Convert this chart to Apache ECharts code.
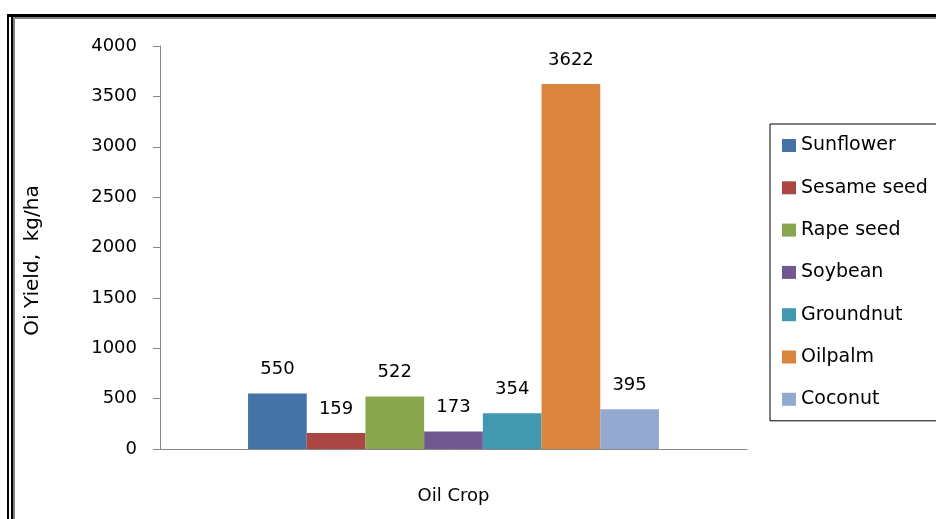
<!DOCTYPE html>
<html>
<head>
<meta charset="utf-8">
<script src="https://cdn.jsdelivr.net/npm/echarts@6/dist/echarts.min.js"></script>
<style>html,body{margin:0;padding:0;background:#fff;}#c{width:936px;height:519px;}</style>
</head>
<body>
<div id="c"></div>
<script>
var categories = ['Oil Crop'];
var seriesNames = ['Sunflower', 'Sesame seed', 'Rape seed', 'Soybean', 'Groundnut', 'Oilpalm', 'Coconut'];
var seriesValues = [550, 159, 522, 173, 354, 3622, 395];
var seriesColors = ['#4572A7', '#AA4643', '#89A54E', '#71588F', '#4198AF', '#DB843D', '#93A9CF'];
var yTicks = [0, 500, 1000, 1500, 2000, 2500, 3000, 3500, 4000];

var FONT = 'DejaVu Sans';
var chart = echarts.init(document.getElementById('c'), null, {renderer: 'canvas'});
var series = seriesNames.map(function (n, i) {
  return {
    name: n, type: 'bar', data: [seriesValues[i]],
    barGap: '0%', barCategoryGap: '30%',
    itemStyle: {color: seriesColors[i]},
    label: {show: true, position: 'top', distance: 15, color: '#000', fontFamily: FONT, fontSize: 18}
  };
});
chart.setOption({
  animation: false,
  backgroundColor: '#fff',
  grid: {left: 160, right: 189, top: 46, bottom: 70},
  xAxis: {
    type: 'category', data: categories,
    name: 'Oil Crop', nameLocation: 'middle', nameGap: 38,
    nameTextStyle: {color: '#000', fontFamily: FONT, fontSize: 18},
    axisLine: {show: true, lineStyle: {color: '#868686', width: 1}},
    axisTick: {show: false}, axisLabel: {show: false}
  },
  yAxis: {
    type: 'value', min: yTicks[0], max: yTicks[yTicks.length - 1], interval: 500,
    name: 'Oi Yield,  kg/ha', nameLocation: 'middle', nameGap: 117,
    nameTextStyle: {color: '#000', fontFamily: FONT, fontSize: 20, padding: [0, 26, 0, 0]},
    axisLine: {show: true, lineStyle: {color: '#868686', width: 1}},
    axisTick: {show: true, length: 7, lineStyle: {color: '#868686'}},
    splitLine: {show: false},
    axisLabel: {margin: 23, color: '#000', fontFamily: FONT, fontSize: 18,
      formatter: function (v) { return String(v); }}
  },
  legend: {
    orient: 'vertical', left: 770, top: 124,
    data: seriesNames,
    icon: 'rect', itemWidth: 14, itemHeight: 13, itemGap: 23.3,
    padding: [12, 40, 12, 12],
    borderColor: '#000', borderWidth: 1,
    textStyle: {color: '#000', fontFamily: FONT, fontSize: 19, lineHeight: 13}
  },
  graphic: [
    {type: 'rect', shape: {x: 7, y: 14, width: 929, height: 3}, style: {fill: '#000'}, silent: true},
    {type: 'rect', shape: {x: 13, y: 17, width: 923, height: 2}, style: {fill: '#808080'}, silent: true},
    {type: 'rect', shape: {x: 7, y: 14, width: 2, height: 505}, style: {fill: '#000'}, silent: true},
    {type: 'rect', shape: {x: 11, y: 17, width: 2, height: 502}, style: {fill: '#000'}, silent: true},
    {type: 'rect', shape: {x: 13, y: 19, width: 2, height: 500}, style: {fill: '#808080'}, silent: true}
  ],
  series: series
});
</script>
</body>
</html>
